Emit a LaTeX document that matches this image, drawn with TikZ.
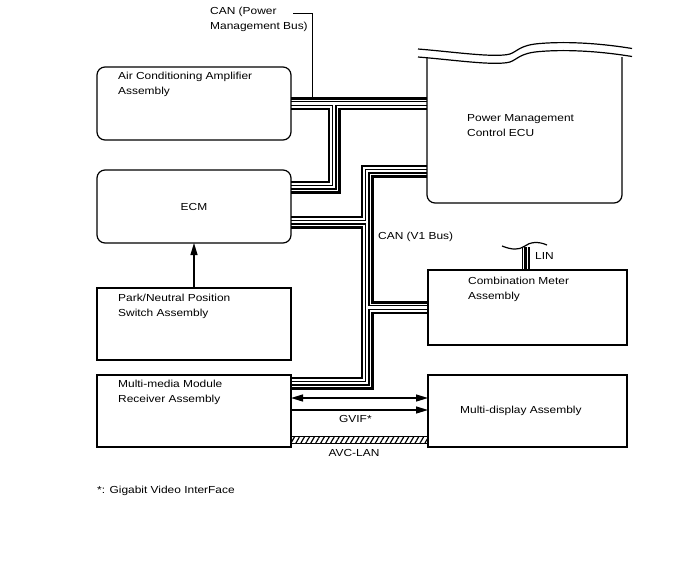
\documentclass[tikz,border=0pt]{standalone}
\usepackage{fontspec}
\setmainfont{Liberation Sans}[FakeStretch=1.17]
\usetikzlibrary{positioning,calc,arrows.meta,backgrounds,patterns.meta}

\tikzset{
  font=\fontsize{10.2}{15}\selectfont,
  >={Triangle[length=12pt,width=7pt]},
  unit/.style={draw, line width=1.2pt, minimum width=194pt, minimum height=73pt,
               inner sep=0pt, outer sep=0pt},
  ecu/.style={unit, rounded corners=8pt},
  txt/.style={inner sep=0pt, align=left, anchor=north west},
  lbl/.style={inner sep=0pt},
  sig/.style={line width=1.2pt},
  cut/.style={line width=1.2pt},
  lead/.style={line width=0.9pt},
  bus/.style={line width=#1, line join=miter, line cap=butt},
  avc/.style={draw, line width=1pt,
              pattern={Lines[angle=60, distance=4.3pt, line width=1.2pt]}},
}

\begin{document}
\begin{tikzpicture}[x=1pt, y=-1pt]
\useasboundingbox (0,0) rectangle (688,560);

% ------------------------------------------------------------------ left column
\node[ecu] (ac) at (194,103.5) {};
\node[txt] at ($(ac.north west)+(21,5)$) {Air Conditioning Amplifier\\Assembly};
\node[ecu, below=30pt of ac] (ecm) {ECM};
\node[unit, minimum height=72pt, below=45pt of ecm] (pnsw) {};
\node[txt] at ($(pnsw.north west)+(21,6)$) {Park/Neutral Position\\Switch Assembly};
\node[unit, minimum height=72pt, below=15pt of pnsw] (mmr) {};
\node[txt] at ($(mmr.north west)+(21,5)$) {Multi-media Module\\Receiver Assembly};

% ------------------------------------------------------------------ right column
\node[inner sep=0pt, outer sep=0pt, minimum width=195pt, minimum height=146pt] (pm) at (524.5,130) {};
\draw[cut, rounded corners=8pt] (pm.north west) -- (pm.south west) -- (pm.south east) -- (pm.north east);
% cut-off top edge
\foreach \d in {0,8}
  \draw[cut, shift={(0,\d)}] (418,49) .. controls (455,52) and (495,58) .. (510,54)
        .. controls (518,51) and (520,45) .. (540,43.5) .. controls (570,41) and (605,44) .. (632,48.5);
\node[txt] at ($(pm.north west)+(40,57)$) {Power Management\\Control ECU};

\node[unit, minimum width=199pt, minimum height=72pt, right=137pt of mmr] (mdisp) {};
\node[lbl, anchor=west] at ($(mdisp.west)+(32,0)$) {Multi-display Assembly};
\node[unit, minimum width=199pt, minimum height=75pt, above=30pt of mdisp] (cmb) {};
\node[txt] at ($(cmb.north west)+(40,7)$) {Combination Meter\\Assembly};

% ------------------------------------------------------------------ CAN buses
\coordinate (j1)   at ($(ac.east)+(43,0)$);
\coordinate (ecmA) at ($(ecm.east)+(0,-19.5)$);
\coordinate (ecmB) at ($(ecm.east)+(0,15.5)$);
\coordinate (pmB)  at ($(pm.west)+(0,41)$);
\coordinate (j2)   at ($(pmB)+(-60,0)$);
\coordinate (mmrA) at ($(mmr.east)+(0,-28)$);
\coordinate (linpt) at ($(cmb.north)+(-2,0)$);

\begin{scope}[on background layer]
  \foreach \w/\c in {13pt/black, 8pt/white, 5pt/black, 2.4pt/white} {
    \draw[bus=\w, draw=\c] (ac.east) -- (ac.east -| pm.west);
    \draw[bus=\w, draw=\c] (ecmA) -| (j1);
    \draw[bus=\w, draw=\c] (pmB) -- (j2) |- (mmrA);
    \draw[bus=\w, draw=\c] (ecmB) -- (ecmB -| j2);
    \draw[bus=\w, draw=\c] (cmb.west -| j2) -- (cmb.west);
  }
  % LIN
  \foreach \w/\c in {8pt/black, 5.6pt/white, 2.8pt/black}
    \draw[bus=\w, draw=\c] (linpt) -- ++(0,-23);
\end{scope}
\draw[cut] (502,246) .. controls (512,250) and (519,250) .. (524,246.5)
           .. controls (530,242) and (538,241) .. (547,245);
\node[lbl, anchor=west] at (535,256) {LIN};

\node[txt] (canlbl) at (210,7) {CAN (Power\\Management Bus)};
\coordinate (leadstart) at (293,13);
\coordinate (canpt) at ($(ac.east)+(21,-6.5)$);
\draw[lead] (leadstart) -| (canpt);
\node[lbl, anchor=west] at (378,237) {CAN (V1 Bus)};

% ------------------------------------------------------------------ signals
\draw[sig, ->] (pnsw.north) -- (ecm.south);
\draw[sig, <->] ($(mmr.east)+(0,-13)$) -- ($(mdisp.west)+(0,-13)$);
\draw[sig, ->] ($(mmr.east)+(0,-1)$) -- ($(mdisp.west)+(0,-1)$)
  node[lbl, pos=0.47, below=5pt] {GVIF*};
\draw[avc] ($(mmr.east)+(0,25)$) rectangle ($(mdisp.west)+(0,32)$);
\node[lbl] at (354,453) {AVC-LAN};

\node[lbl, anchor=west] at (97,491) {*: Gigabit Video InterFace};

\end{tikzpicture}
\end{document}
